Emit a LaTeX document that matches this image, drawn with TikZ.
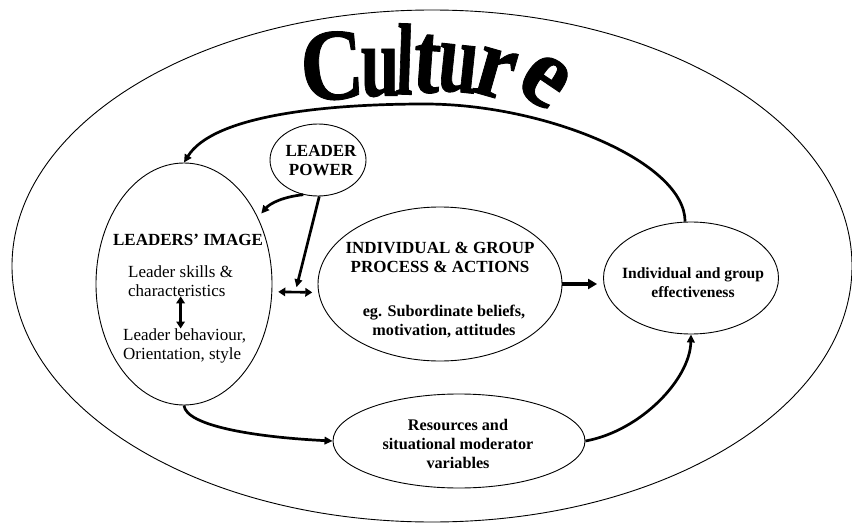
\documentclass[tikz,border=0pt]{standalone}
\usepackage{fontspec}
\setmainfont{Liberation Serif}
\newfontfamily\heavyserif[BoldFeatures={FakeBold=0.9}]{Liberation Serif}
\usetikzlibrary{arrows.meta,shapes.geometric,calc}

\begin{document}
\begin{tikzpicture}[
  x=1pt, y=-1pt,
  oval/.style={draw, ellipse, line width=0.9pt, inner sep=0},
  txt/.style={font=\fontsize{17}{18.5}\selectfont, inner sep=0, align=left},
  head/.style={txt, font=\fontsize{17}{19}\selectfont\bfseries, align=center},
  note/.style={txt, font=\fontsize{16.2}{19}\selectfont\bfseries, align=center},
  flow/.style={-{Triangle[length=8pt,width=7.5pt]}, line width=2.7pt},
  link/.style={{Triangle[length=7pt,width=8.5pt]}-{Triangle[length=7pt,width=8.5pt]}, line width=2.6pt},
  letter/.style={inner sep=0, font=\heavyserif\fontsize{102}{102}\selectfont\bfseries}
]
\useasboundingbox (0,0) rectangle (852,527);

% frame and arched title
\node[oval, minimum width=840pt, minimum height=512pt] (culture) at (432,266) {};
\foreach \ch/\px/\py/\rot/\sc [count=\i] in {C/332/66/4/.86, u/380/73/0/.68,
    l/405/59/-2/.62, t/427/64/-4/.8, u/458/69/-6/.7, r/495/73/-16/.85, e/544/81/-34/.95}
  \node[letter, rotate=\rot] (ch\i) at (\px,\py) {\scalebox{\sc}[1]{\ch}};

% the five ovals
\node[oval, minimum width=176pt, minimum height=242pt] (image) at (184,284) {};
\node[oval, minimum width=96pt, minimum height=72pt] (power) at (318,160) {};
\node[oval, minimum width=244pt, minimum height=154pt] (igp) at (440,284) {};
\node[oval, minimum width=175pt, minimum height=112pt] (effect) at (691,278) {};
\node[oval, minimum width=252pt, minimum height=94pt] (res) at (459,441) {};

% texts, placed on the baseline of their last line
\node[head, anchor=base] (imagehead) at (188,245) {LEADERS' IMAGE};
\node[txt, anchor=base west] (skills) at (128,296) {Leader skills \&\\characteristics};
\node[txt, anchor=base west] (behav) at (123,359) {Leader behaviour,\\Orientation, style};
\node[head, anchor=base] (powertxt) at (321,175) {LEADER\\POWER};
\node[head, anchor=base] (igphead) at (440,272) {INDIVIDUAL \& GROUP\\PROCESS \& ACTIONS};
\node[note, anchor=base] (igpnote) at (444,335) {eg. Subordinate beliefs,\\motivation, attitudes};
\node[note, anchor=base, font=\fontsize{15.6}{19}\selectfont\bfseries] (effecttxt)
  at (693,297) {Individual and group\\effectiveness};
\node[note, anchor=base] (restxt) at (458,468) {Resources and\\situational moderator\\variables};

% connectors
\coordinate (apex) at (425,104);
\draw[flow] (effect.96) .. controls +(0,-60) and +(120,0) .. (apex)
  .. controls +(-110,0) and +(28,-45) .. (image.north);
\draw[flow, shorten >=5pt] (power.247) .. controls +(-20,2) and +(12,-14) .. (image.42);
\draw[flow, shorten >=5pt] (power.272) -- ($(image.-5)!.5!(igp.184)$);
\draw[link, shorten <=6pt, shorten >=6pt] (image.-5) -- (igp.184);
\draw[link] (skills.south) -- (skills.south |- behav.north);
\draw[-{Triangle[length=9pt,width=10pt]}, line width=4.5pt, shorten >=6pt]
  (igp.east) -- (igp.east -| effect.west);
\draw[flow] (image.south) .. controls +(2,20) and +(-80,-4) .. (res.west);
\draw[flow] (res.east) .. controls +(55,-10) and +(-1,45) .. (effect.south);
\end{tikzpicture}
\end{document}
